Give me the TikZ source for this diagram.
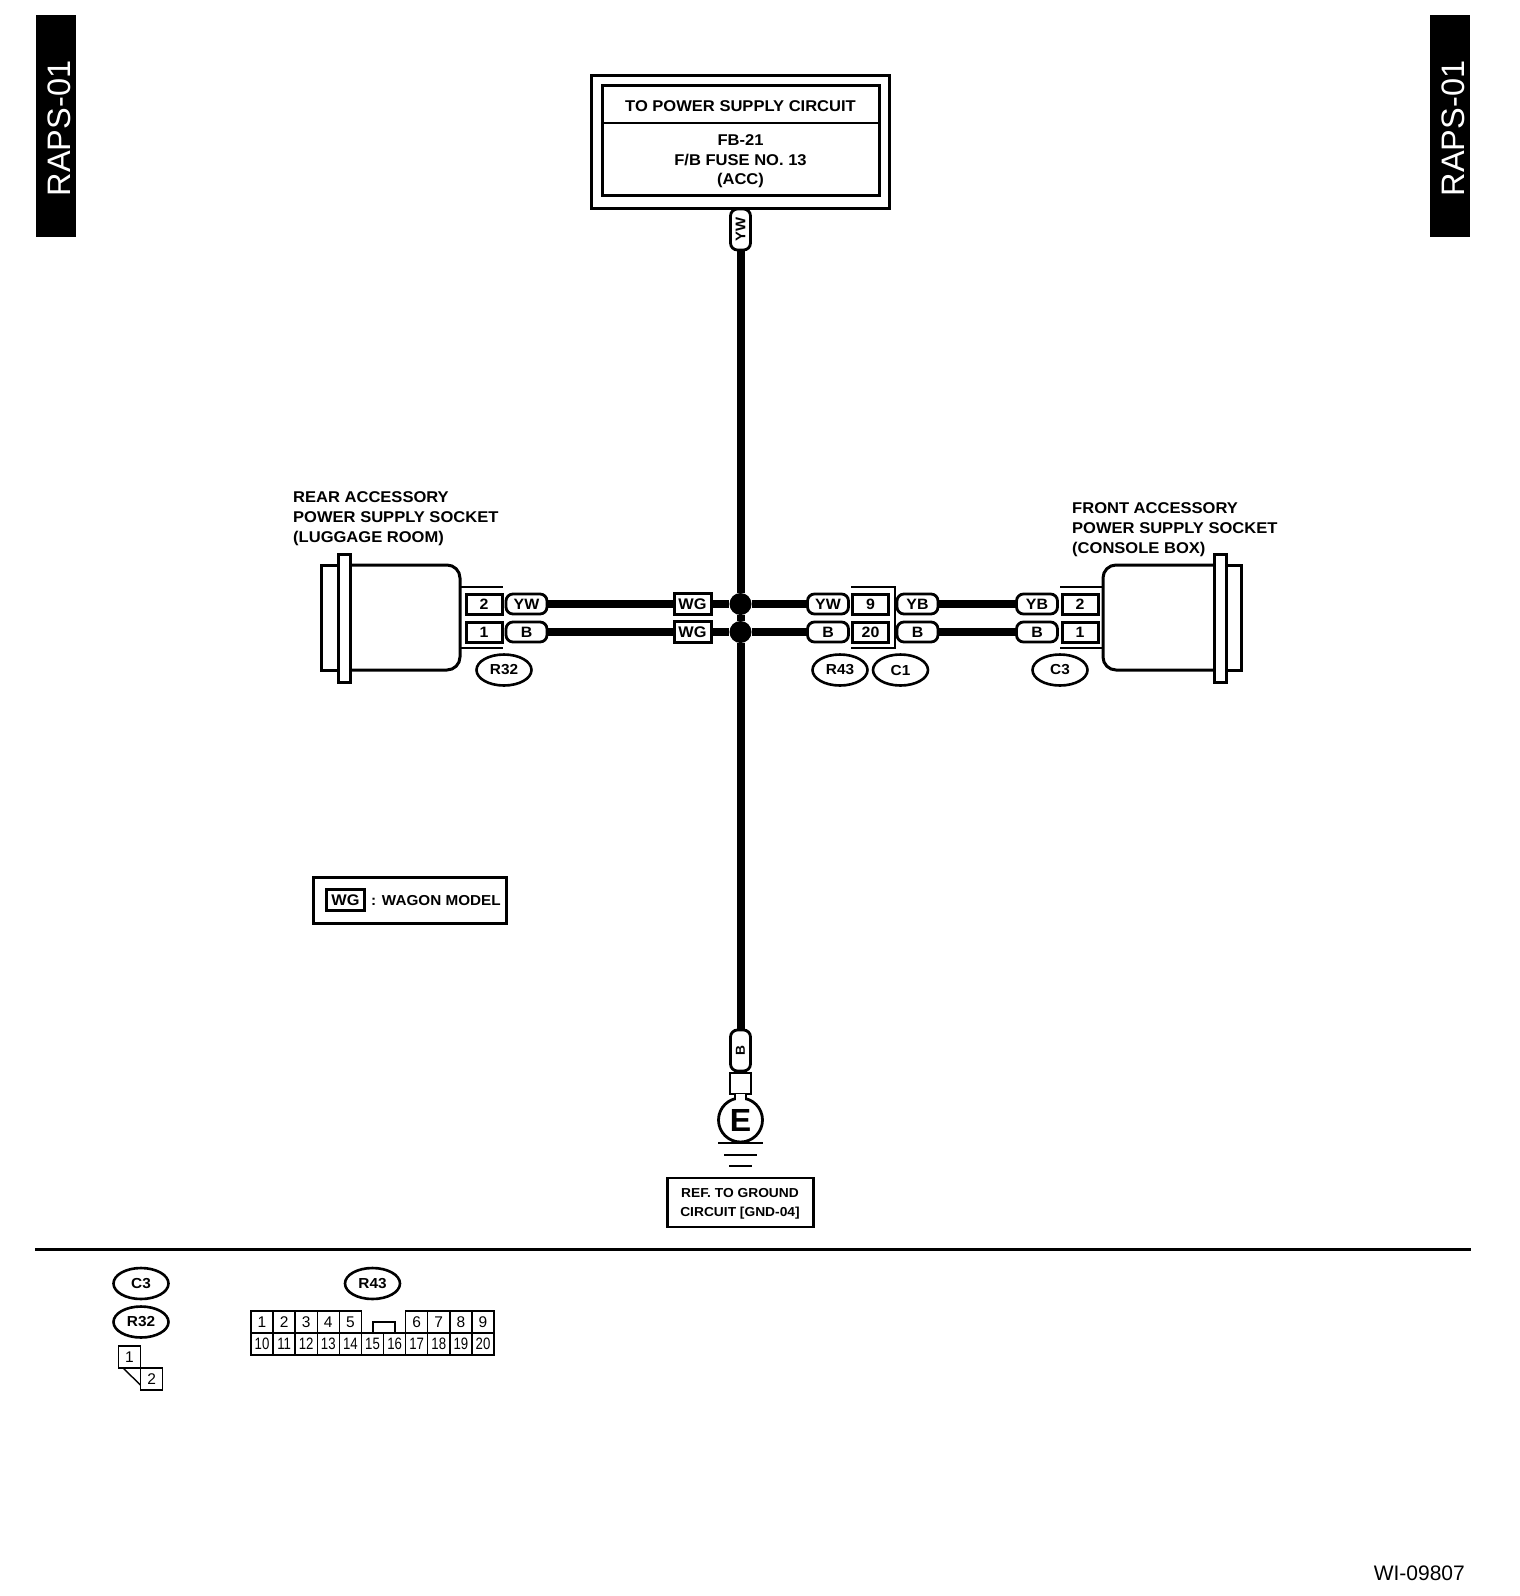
\documentclass[tikz,border=0pt]{standalone}
\usepackage{fontspec}
\setmainfont{Liberation Sans}
\newfontfamily\lblfont[FakeStretch=1.06]{Liberation Sans Bold}
\newfontfamily\narrowfont[FakeStretch=0.8]{Liberation Sans}
\usetikzlibrary{shapes.geometric}
\newcommand{\fs}[1]{\fontsize{#1}{#1}\selectfont}
\tikzset{wire/.style={line width=8pt},
         pill/.style={rectangle, rounded corners=7pt, draw, line width=2.8pt, fill=white,
         inner sep=0pt, outer sep=0pt,
         minimum width=#1, minimum height=20pt, font=\lblfont\fs{15}},
         pill/.default={41pt},
         cellbox/.style={draw, line width=3pt, fill=white, inner sep=0pt, outer sep=0pt,
         minimum width=36pt, minimum height=20pt, font=\lblfont\fs{15}},
         tag/.style={ellipse, draw, line width=2.6pt, inner sep=0pt, outer sep=0pt,
         minimum width=55pt, minimum height=31pt, font=\lblfont\fs{14.5}},
         pinbox/.style={draw, line width=1.4pt, inner sep=0pt, outer sep=0pt,
         minimum width=22.1pt, minimum height=22pt, font=\fs{15.5}},
         dot/.style={circle, fill, inner sep=0pt, minimum size=22pt},
         tab/.style={fill, minimum width=40pt, minimum height=222pt, inner sep=0pt},
         side/.style={rotate=90, text=white, font=\fs{32.5}},
         note/.style={align=left, anchor=north west, inner sep=0pt, font=\lblfont\fs{15.6}}}

\begin{document}
\begin{tikzpicture}[x=1pt,y=-1pt]
  \useasboundingbox (0,0) rectangle (1520,1596);

  % side tabs
  \node[tab] (tabl) at (56,126) {};
  \node[side] at (59,128.5) {RAPS-01};
  \node[tab] (tabr) at (1450,126) {};
  \node[side] at (1453,128.5) {RAPS-01};

  % power supply box
  \draw[line width=3pt] (591,75) rectangle (889.5,208);
  \draw[line width=3pt] (602,85) rectangle (879,195);
  \draw[line width=2.4pt] (602,123) -- (879,123);
  \node[font=\lblfont\fs{15.6}] (psu) at (740.5,106.5) {TO POWER SUPPLY CIRCUIT};
  \node[align=center, font=\lblfont\fs{15.6}] (fuse) at (740.5,161.5) {FB-21\\[3.9pt]F/B FUSE NO. 13\\[3.9pt](ACC)};

  % wires, rows and junctions
  \node[dot] (j1) at (740.5,604) {};
  \node[dot] (j2) at (740.5,632) {};
  \node[pill=41pt, rotate=90, font=\lblfont\fs{14}] (ywtop) at (740.5,229.5) {YW};
  \node[pill=41pt, rotate=90, font=\lblfont\fs{13}] (bbot) at (740.5,1050.5) {B};

  \node[pill] (a1) at (526.5,604) {YW};
  \node[pill] (a2) at (526.5,632) {B};
  \node[cellbox, minimum width=37pt, minimum height=21pt, font=\lblfont\fs{15.4}] (wg1) at (692.5,604) {WG};
  \node[cellbox, minimum width=37pt, minimum height=21pt, font=\lblfont\fs{15.4}] (wg2) at (692.5,632) {WG};
  \node[pill] (b1) at (828,604) {YW};
  \node[pill] (b2) at (828,632) {B};
  \node[pill] (c1) at (917.5,604) {YB};
  \node[pill] (c2) at (917.5,632) {B};
  \node[pill] (d1) at (1037,604) {YB};
  \node[pill] (d2) at (1037,632) {B};

  \begin{scope}[wire]
    \draw (a1) -- (wg1);
    \draw (a2) -- (wg2);
    \draw (wg1) -- (j1) -- (b1);
    \draw (wg2) -- (j2) -- (b2);
    \draw (c1) -- (d1);
    \draw (c2) -- (d2);
    \draw (ywtop) -- (j1) -- (j2) -- (bbot);
  \end{scope}

  % cells with their brackets
  \node[cellbox] (ra) at (484,604) {2};
  \node[cellbox] (rb) at (484,632.5) {1};
  \node[cellbox] (ma) at (870.5,604) {9};
  \node[cellbox] (mb) at (870.5,632.5) {20};
  \node[cellbox] (fa) at (1080,604) {2};
  \node[cellbox] (fb) at (1080,632.5) {1};
  \begin{scope}[line width=2.6pt]
    \draw (460,587) -- (503,587);
    \draw (460,648) -- (503,648);
    \draw (851,587) -- (895,587) -- (895,648) -- (851,648);
    \draw (1060,587) -- (1103,587);
    \draw (1060,648) -- (1103,648);
  \end{scope}

  % sockets
  \begin{scope}[line width=3pt]
    \draw[rounded corners=13pt] (338,565) -- (460,565) -- (460,670) -- (338,670);
    \draw (338,565) -- (321,565) -- (321,670) -- (338,670);
    \draw[fill=white] (338,554) rectangle (350,682);
    \draw[rounded corners=13pt] (1226,565) -- (1103,565) -- (1103,670) -- (1226,670);
    \draw (1226,565) -- (1241.5,565) -- (1241.5,670) -- (1226,670);
    \draw[fill=white] (1214,554) rectangle (1226,682);
  \end{scope}
  \node[note] (rear) at (293,491) {REAR ACCESSORY\\[4.4pt]POWER SUPPLY SOCKET\\[4.4pt](LUGGAGE ROOM)};
  \node[note] (front) at (1072,502) {FRONT ACCESSORY\\[4.4pt]POWER SUPPLY SOCKET\\[4.4pt](CONSOLE BOX)};
  \node[tag] (r32) at (504,670) {R32};
  \node[tag] (r43) at (840,670) {R43};
  \node[tag] (tc1) at (900.5,670) {C1};
  \node[tag] (tc3) at (1060,670) {C3};

  % legend
  \draw[line width=3pt] (313,877) rectangle (506,923);
  \node[cellbox, minimum width=38pt, minimum height=21pt, font=\lblfont\fs{15.4}] (wgkey) at (345.5,900) {WG};
  \node[anchor=west, inner sep=0pt, font=\lblfont\fs{14.4}] (wgtext) at (371,901) {: WAGON MODEL};

  % ground
  \node[draw, line width=2.8pt, minimum size=21pt, inner sep=0pt] (sq) at (740.5,1083.5) {};
  \node[circle, draw, line width=2.8pt, minimum size=44pt, inner sep=0pt, font=\bfseries\fs{32}] (e) at (740.5,1120) {\raisebox{-2.5pt}{E}};
  \fill[white] (736,1094) rectangle (745,1100);
  \draw[line width=2.4pt] (735,1095) -- (735,1099) (746,1095) -- (746,1099);
  \draw[line width=2.6pt] (718,1143) -- (763,1143);
  \draw[line width=2.6pt] (724,1155) -- (757,1155);
  \draw[line width=2.6pt] (729,1166) -- (752,1166);
  \node[draw, line width=2.8pt, minimum width=146pt, minimum height=49pt, inner sep=0pt] (ref) at (740.5,1202.5) {};
  \node[align=center, font=\lblfont\fs{13}] (reftext) at (740,1204) {REF. TO GROUND\\[5.6pt]CIRCUIT [GND-04]};

  \draw[line width=3pt] (35,1249) -- (1471,1249);

  % connector views
  \node[tag] (kc3) at (141,1283.5) {C3};
  \node[tag] (kr32) at (141,1322) {R32};
  \node[tag] (kr43) at (372.5,1283.5) {R43};
  \foreach \n [count=\i from 0] in {1,2,3,4,5}
    \node[pinbox] (t\n) at (262+22.1*\i,1322) {\n};
  \foreach \n [count=\i from 7] in {6,7,8,9}
    \node[pinbox] (t\n) at (262+22.1*\i,1322) {\n};
  \foreach \n [count=\i from 0] in {10,...,20}
    \node[pinbox, font=\narrowfont\fs{16.5}] (t\n) at (262+22.1*\i,1344) {\n};
  \draw[line width=1.4pt] (373,1333) -- (373,1322) -- (395,1322) -- (395,1333);
  \node[pinbox] (s1) at (129.5,1357) {1};
  \node[pinbox] (s2) at (151.6,1379) {2};
  \draw[line width=1.4pt] (123,1368) -- (140.5,1385);

  \node[anchor=south east, inner sep=0pt, font=\fs{21}] (code) at (1465,1581) {WI-09807};
\end{tikzpicture}
\end{document}
